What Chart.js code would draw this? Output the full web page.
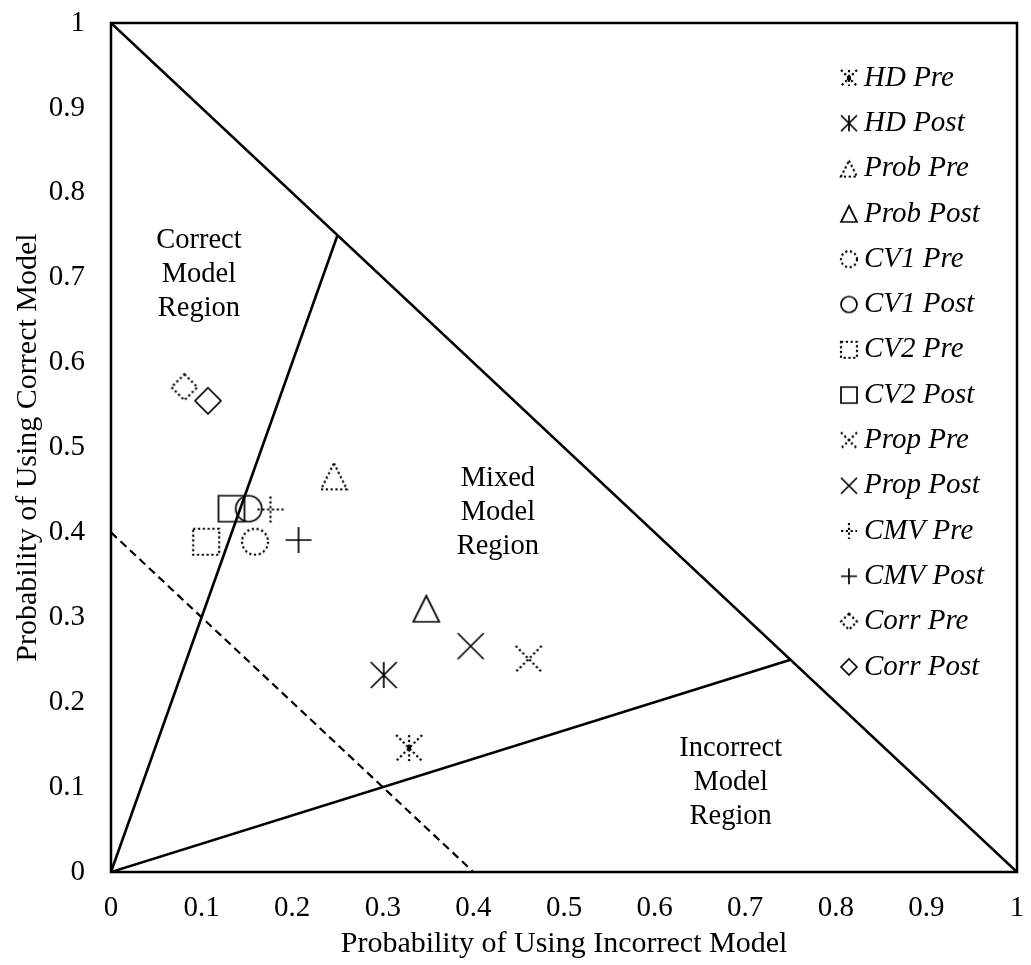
<!DOCTYPE html>
<html>
<head>
<meta charset="utf-8">
<title>Model usage probabilities</title>
<script src="https://cdn.jsdelivr.net/npm/chart.js@4.4.1/dist/chart.umd.min.js"></script>
<style>
    html, body { margin: 0; padding: 0; background: #fff; }
    canvas { display: block; }
</style>
</head>
<body>
<canvas id="myChart" width="1031" height="965"></canvas>
<script>
var seriesNames = ['HD Pre', 'HD Post', 'Prob Pre', 'Prob Post', 'CV1 Pre', 'CV1 Post', 'CV2 Pre', 'CV2 Post',
    'Prop Pre', 'Prop Post', 'CMV Pre', 'CMV Post', 'Corr Pre', 'Corr Post'];
var incorrectProb = [0.329, 0.301, 0.246, 0.348, 0.159, 0.152, 0.105, 0.133, 0.461, 0.397, 0.176, 0.207, 0.081, 0.107];
var correctProb = [0.146, 0.232, 0.466, 0.310, 0.389, 0.428, 0.389, 0.428, 0.251, 0.266, 0.427, 0.391, 0.571, 0.555];
var markerShapes = ['star', 'star', 'triangle', 'triangle', 'circle', 'circle', 'square', 'square',
    'cross', 'cross', 'plus', 'plus', 'diamond', 'diamond'];
var tickLabels = ['0', '0.1', '0.2', '0.3', '0.4', '0.5', '0.6', '0.7', '0.8', '0.9', '1'];

// region boundaries
var outerX = [0, 1], outerY = [1, 0];
var correctEdgeX = [0, 0.25], correctEdgeY = [0, 0.75];
var incorrectEdgeX = [0, 0.75], incorrectEdgeY = [0, 0.25];
var chanceX = [0, 0.4], chanceY = [0.4, 0];

var regionNames = [['Correct', 'Model', 'Region'], ['Mixed', 'Model', 'Region'], ['Incorrect', 'Model', 'Region']];

var serif = "'Liberation Serif', 'Times New Roman', serif";

function drawMarker(ctx, shape, cx, cy, s, dotted) {
    var h = s / 2;
    ctx.save();
    ctx.strokeStyle = '#000';
    ctx.fillStyle = '#000';
    ctx.lineWidth = dotted ? 2.2 : 1.7;
    ctx.setLineDash(dotted ? [2.2, 2.6] : []);
    ctx.beginPath();
    switch (shape) {
        case 'circle':
            ctx.arc(cx, cy, h, 0, Math.PI * 2);
            break;
        case 'square':
            ctx.rect(cx - h, cy - h, s, s);
            break;
        case 'diamond':
            ctx.moveTo(cx, cy - h);
            ctx.lineTo(cx + h, cy);
            ctx.lineTo(cx, cy + h);
            ctx.lineTo(cx - h, cy);
            ctx.closePath();
            break;
        case 'triangle':
            ctx.moveTo(cx, cy - h);
            ctx.lineTo(cx + h, cy + h);
            ctx.lineTo(cx - h, cy + h);
            ctx.closePath();
            break;
        case 'plus':
            ctx.moveTo(cx - h, cy);
            ctx.lineTo(cx + h, cy);
            ctx.moveTo(cx, cy - h);
            ctx.lineTo(cx, cy + h);
            break;
        case 'star':
            ctx.moveTo(cx, cy - h);
            ctx.lineTo(cx, cy + h);
            // falls through to the cross strokes
        case 'cross':
            ctx.moveTo(cx - h, cy - h);
            ctx.lineTo(cx + h, cy + h);
            ctx.moveTo(cx + h, cy - h);
            ctx.lineTo(cx - h, cy + h);
            break;
    }
    ctx.stroke();
    if (dotted && shape === 'star') {
        ctx.fillRect(cx - 2, cy - 2, 4, 4);
    }
    ctx.restore();
}

function makeMarker(shape, size, dotted) {
    var c = document.createElement('canvas');
    c.width = size + 6;
    c.height = size + 6;
    drawMarker(c.getContext('2d'), shape, c.width / 2, c.height / 2, size, dotted);
    return c;
}

function toPoints(xs, ys) {
    return xs.map(function (x, i) { return { x: x, y: ys[i] }; });
}

function guideLine(xs, ys, dash) {
    return {
        data: toPoints(xs, ys),
        showLine: true,
        borderColor: '#000',
        borderWidth: dash ? 2.2 : 2.6,
        borderDash: dash || [],
        pointRadius: 0,
        pointHoverRadius: 0,
        fill: false
    };
}

var datasets = [
    guideLine(outerX, outerY),
    guideLine(correctEdgeX, correctEdgeY),
    guideLine(incorrectEdgeX, incorrectEdgeY),
    guideLine(chanceX, chanceY, [8, 5])
];

seriesNames.forEach(function (name, i) {
    var dotted = /Pre$/.test(name);
    datasets.push({
        label: name,
        data: [{ x: incorrectProb[i], y: correctProb[i] }],
        pointStyle: makeMarker(markerShapes[i], 26, dotted),
        legendMarker: makeMarker(markerShapes[i], 16, dotted),
        pointRadius: 13,
        pointHoverRadius: 13
    });
});

// box round the plot area
var plotFrame = {
    id: 'plotFrame',
    afterDraw: function (chart) {
        var a = chart.chartArea, ctx = chart.ctx;
        ctx.save();
        ctx.strokeStyle = '#000';
        ctx.lineWidth = 2.5;
        ctx.strokeRect(a.left, a.top, a.right - a.left, a.bottom - a.top);
        ctx.restore();
    }
};

// three-line region names, anchored on the middle line
var regionLabels = {
    id: 'regionLabels',
    afterDatasetsDraw: function (chart) {
        var ctx = chart.ctx, xs = chart.scales.x, ys = chart.scales.y;
        var anchorX = [0.097, 0.427, 0.684];
        var anchorY = [0.704, 0.424, 0.105];
        ctx.save();
        ctx.font = '28.5px ' + serif;
        ctx.fillStyle = '#000';
        ctx.textAlign = 'center';
        ctx.textBaseline = 'middle';
        regionNames.forEach(function (lines, i) {
            var px = xs.getPixelForValue(anchorX[i]);
            var py = ys.getPixelForValue(anchorY[i]);
            lines.forEach(function (t, j) {
                ctx.fillText(t, px, py + (j - 1) * 34);
            });
        });
        ctx.restore();
    }
};

var markerLegend = {
    id: 'markerLegend',
    afterDraw: function (chart) {
        var ctx = chart.ctx, a = chart.chartArea;
        var row = 0;
        ctx.save();
        ctx.font = 'italic 29px ' + serif;
        ctx.fillStyle = '#000';
        ctx.textAlign = 'left';
        ctx.textBaseline = 'middle';
        chart.data.datasets.forEach(function (ds) {
            if (!ds.legendMarker) return;
            var y = a.top + 55 + row * 45.3;
            var icon = ds.legendMarker;
            ctx.drawImage(icon, a.right - 168 - icon.width / 2, y - icon.height / 2);
            ctx.fillText(ds.label, a.right - 153, y);
            row++;
        });
        ctx.restore();
    }
};

var tickFont = { family: serif, size: 29 };
var titleFont = { family: serif, size: 30 };

var myChart = new Chart(document.getElementById('myChart'), {
    type: 'scatter',
    data: { datasets: datasets },
    options: {
        responsive: false,
        animation: false,
        layout: { padding: { top: 23, right: 13, left: 0, bottom: 0 } },
        plugins: {
            legend: { display: false },
            tooltip: { enabled: false }
        },
        scales: {
            x: {
                type: 'linear',
                min: 0,
                max: 1,
                grid: { display: false, drawTicks: false },
                border: { display: false },
                ticks: {
                    stepSize: 0.1,
                    padding: 19,
                    maxRotation: 0,
                    autoSkip: false,
                    color: '#000',
                    font: tickFont,
                    callback: function (v) { return tickLabels[Math.round(v * 10)]; }
                },
                title: {
                    display: true,
                    text: 'Probability of Using Incorrect Model',
                    color: '#000',
                    font: titleFont,
                    padding: { top: 0, bottom: 3 }
                },
                afterFit: function (scale) {
                    scale.height = 93;
                    scale.paddingLeft = 0;
                    scale.paddingRight = 0;
                }
            },
            y: {
                type: 'linear',
                min: 0,
                max: 1,
                grid: { display: false, drawTicks: false },
                border: { display: false },
                ticks: {
                    stepSize: 0.1,
                    padding: 26,
                    color: '#000',
                    font: tickFont,
                    callback: function (v) { return tickLabels[Math.round(v * 10)]; }
                },
                title: {
                    display: true,
                    text: 'Probability of Using Correct Model',
                    color: '#000',
                    font: titleFont,
                    padding: { top: 10, bottom: 0 }
                },
                afterFit: function (scale) {
                    scale.width = 111;
                    scale.paddingTop = 0;
                    scale.paddingBottom = 0;
                }
            }
        }
    },
    plugins: [plotFrame, regionLabels, markerLegend]
});
</script>
</body>
</html>
